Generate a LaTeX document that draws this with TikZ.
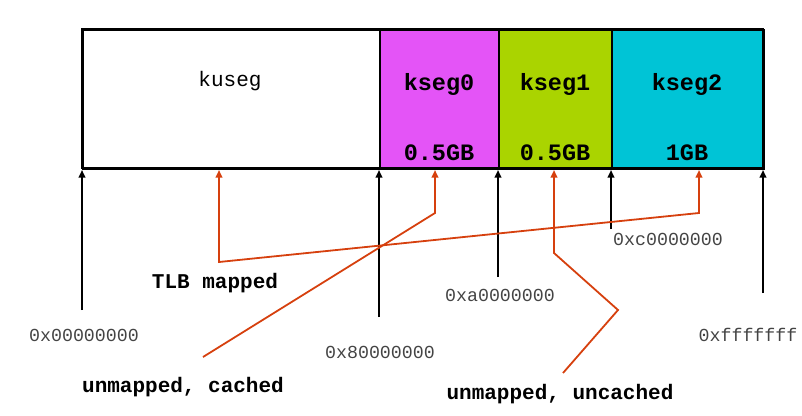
\documentclass[tikz,border=0pt]{standalone}
\usepackage{fontspec}
\setmonofont{Liberation Mono}
\usetikzlibrary{arrows.meta}
\definecolor{segmag}{HTML}{E454F7}
\definecolor{seggrn}{HTML}{AAD400}
\definecolor{segcyn}{HTML}{00C4D6}
\definecolor{mapred}{HTML}{D6400E}
\definecolor{addrgray}{HTML}{444444}
\begin{document}
\begin{tikzpicture}[x=1pt, y=-1pt]
\tikzset{segbox/.style={shape=rectangle, draw, line width=1.5pt, minimum height=139pt, inner sep=0pt, anchor=north west}}
\tikzset{seglabel/.style={font=\ttfamily\bfseries\fontsize{23.5}{26}\selectfont}}
\tikzset{addrlabel/.style={font=\ttfamily\fontsize{18.3}{21}\selectfont, text=addrgray}}
\tikzset{kindlabel/.style={font=\ttfamily\bfseries\fontsize{21}{24}\selectfont}}
\tikzset{addredge/.style={-{Triangle[length=7.5pt,width=6.5pt]}, line width=1.8pt}}
\tikzset{mapedge/.style={-{Triangle[length=7.5pt,width=6.5pt]}, line width=1.8pt, draw=mapred}}
\useasboundingbox (0,0) rectangle (802,415);
% segments
\node (kuseg) [segbox, minimum width=297pt] at ( 82, 29) {};
\node (kseg0) [segbox, minimum width=119pt, fill=segmag] at (379, 29) {};
\node (kseg1) [segbox, minimum width=113pt, fill=seggrn] at (498, 29) {};
\node (kseg2) [segbox, minimum width=152pt, fill=segcyn] at (611, 29) {};
\draw[line width=2.5pt] (82,29) rectangle (763,168);
\node (kusegname) [font=\ttfamily\fontsize{21}{24}\selectfont] at (230, 81) {kuseg};
\node (kseg0name) [seglabel] at (439, 84) {kseg0};
\node (kseg1name) [seglabel] at (555, 84) {kseg1};
\node (kseg2name) [seglabel] at (687, 84) {kseg2};
\node (kseg0size) [seglabel] at (439, 153) {0.5GB};
\node (kseg1size) [seglabel] at (555, 153) {0.5GB};
\node (kseg2size) [seglabel] at (687, 153) {1GB};
% addresses
\coordinate (b0) at ( 82, 170);
\coordinate (b8) at (379, 170);
\coordinate (ba) at (498, 170);
\coordinate (bc) at (611, 170);
\coordinate (bf) at (763, 170);
\coordinate (t0) at ( 82, 310);
\coordinate (t8) at (379, 317);
\coordinate (ta) at (498, 277);
\coordinate (tc) at (611, 229);
\coordinate (tf) at (763, 293);
\draw[addredge] (t0) -- (b0);
\draw[addredge] (t8) -- (b8);
\draw[addredge] (ta) -- (ba);
\draw[addredge] (tc) -- (bc);
\draw[addredge] (tf) -- (bf);
\node (a0) [addrlabel] at ( 84, 335) {0x00000000};
\node (a8) [addrlabel] at (380, 352) {0x80000000};
\node (aa) [addrlabel] at (500, 295) {0xa0000000};
\node (ac) [addrlabel] at (668, 239) {0xc0000000};
\node (af) [addrlabel] at (748, 335) {0xfffffff};
% kinds of mapping
\node (tlb) [kindlabel] at (215, 283) {TLB mapped};
\node (cached) [kindlabel] at (183, 387) {unmapped, cached};
\node (uncached) [kindlabel] at (560, 394) {unmapped, uncached};
\coordinate (mu) at (219, 170);
\coordinate (m0) at (435, 170);
\coordinate (m1) at (554, 170);
\coordinate (m2) at (699, 170);
\draw[mapedge, {Triangle[length=7.5pt,width=6.5pt]}-{Triangle[length=7.5pt,width=6.5pt]}] (mu) -- (219, 262) -- (699, 213) -- (m2);
\draw[mapedge] (203, 357) -- (435, 213) -- (m0);
\draw[mapedge] (563, 373) -- (618, 310) -- (554, 253) -- (m1);
\end{tikzpicture}
\end{document}
